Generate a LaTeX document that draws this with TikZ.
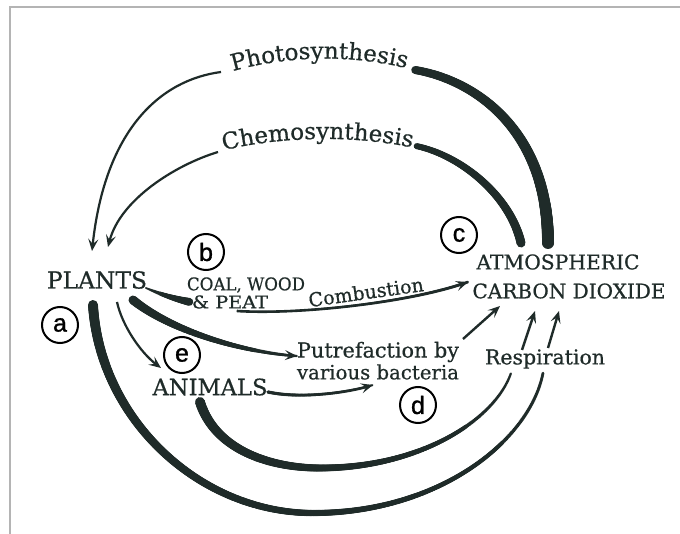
\documentclass[tikz,border=0pt]{standalone}
\usepackage{fontspec}
\setmainfont{DejaVu Serif}
\newfontfamily\lblfont{DejaVu Serif}[FakeBold=0.6]
\newfontfamily\circfont{Liberation Sans}[FakeBold=1.2]
\usetikzlibrary{arrows.meta,decorations.markings,decorations.text}
\definecolor{ink}{HTML}{1F2B29}
\definecolor{framegray}{HTML}{B4B4B4}
\begin{document}
\begin{tikzpicture}[x=1pt,y=-1pt,
  lbl/.style={inner sep=0pt, text=ink, font=\lblfont},
  circ/.style={circle, draw=black, line width=2pt, minimum size=36pt, inner sep=0pt,
    font=\circfont\fontsize{25}{25}\selectfont},
  tip/.style={-{Stealth[length=12pt,width=10pt,inset=5pt]}},
  conn/.style={draw=ink, line width=2.4pt},
  taper/.style n args={2}{postaction={decorate,decoration={markings,
    mark=between positions 0 and 1 step 0.8pt with {%
      \pgfmathsetmacro\tr{0.5*(#1+(#2-#1)*\pgfkeysvalueof{/pgf/decoration/mark info/distance from start}/\pgfdecoratedpathlength)}%
      \fill[ink] (0,0) circle[radius=\tr pt];}}}},
  arctext/.style={decorate,decoration={text along path, text align=center,
    text={|\lblfont\fontsize{23}{23}\selectfont\color{ink}|#1}}},
]
\useasboundingbox (0,0) rectangle (680,534);
\fill[white] (0,0) rectangle (680,534);
\draw[framegray, line width=2pt] (10,534) -- (10,7) -- (680,7);

% text nodes
\node[lbl] (plants) at (97,280) {\resizebox{100pt}{!}{PLANTS}};
\node[lbl] (coal) at (246,285) {\resizebox{118pt}{13pt}{COAL, WOOD}};
\node[lbl] (peat) at (230,302) {\resizebox{76pt}{13pt}{\& PEAT}};
\node[lbl, rotate=8] (comb) at (366,292) {\resizebox{116pt}{!}{Combustion}};
\node[lbl] (atmo) at (558,262) {\resizebox{163pt}{!}{ATMOSPHERIC}};
\node[lbl] (co2) at (569,291) {\resizebox{193pt}{!}{CARBON DIOXIDE}};
\node[lbl] (putr) at (378,352) {\resizebox{162pt}{!}{Putrefaction by}};
\node[lbl] (bact) at (378,372) {\resizebox{162pt}{!}{various bacteria}};
\node[lbl] (anim) at (210,387) {\resizebox{115pt}{!}{ANIMALS}};
\node[lbl] (resp) at (545,359) {\resizebox{120pt}{!}{Respiration}};

% curved labels
\path[arctext=Photosynthesis] (190,87) .. controls (270,50) and (370,50) .. (450,82);
\path[arctext=Chemosynthesis] (184,162) .. controls (264,133) and (370,131) .. (452,158);

% circle markers
\node[circ] (ca) at (60,325) {a};
\node[circ] (cb) at (206,252) {b};
\node[circ] (cc) at (459,235) {c};
\node[circ] (cd) at (418,405) {d};
\node[circ] (ce) at (182,355) {e};

% connector end points
\coordinate (phL) at (221,72);
\coordinate (phR) at (415,70);
\coordinate (chL) at (218,152);
\coordinate (chR) at (416,146);
\coordinate (pA) at (92,251);
\coordinate (pB) at (108,247);
\coordinate (co2A) at (548,243);
\coordinate (co2B) at (521,243);
\coordinate (plE) at (146,288);
\coordinate (coalW) at (190,302);
\coordinate (cmbS) at (237,311);
\coordinate (cmbE) at (468,282);
\coordinate (plP) at (133,300);
\coordinate (putL) at (297,356);
\coordinate (plAn) at (117,302);
\coordinate (anT) at (161,368);
\coordinate (plO) at (93,305);
\coordinate (resO) at (543,373);
\coordinate (resO2) at (548,348);
\coordinate (co2R) at (559,311);
\coordinate (anB) at (200,402);
\coordinate (resI) at (511,373);
\coordinate (resI2) at (522,350);
\coordinate (co2M) at (535,311);
\coordinate (putR) at (463,339);
\coordinate (co2L) at (500,306);
\coordinate (anR) at (268,392);
\coordinate (bacB) at (373,385);

% photosynthesis and chemosynthesis
\path[taper={12}{8}] (co2A) .. controls (548,130) and (475,80) .. (phR);
\draw[conn, line width=2.2pt, tip] (phL) .. controls (160,80) and (105,130) .. (pA);
\path[taper={9}{6}] (co2B) .. controls (510,195) and (460,155) .. (chR);
\draw[conn, line width=2.2pt, tip] (chL) .. controls (175,165) and (120,200) .. (pB);

% plants to coal, combustion
\path[taper={2}{8}] (plE) .. controls (160,294) and (175,299) .. (coalW);
\draw[conn, line width=2.6pt, tip, taper={1.5}{3}] (cmbS) .. controls (300,315) and (410,302) .. (cmbE);

% plants to putrefaction and animals
\draw[conn, line width=2.4pt, tip, taper={9}{2.4}] (plP) .. controls (170,330) and (240,352) .. (putL);
\draw[conn, line width=2.2pt, tip] (plAn) .. controls (122,325) and (140,352) .. (anT);

% respiration arcs
\path[taper={10}{3}] (plO) .. controls (100,420) and (200,513) .. (313,513)
  .. controls (440,513) and (530,440) .. (resO);
\path[taper={10}{2.5}] (anB) .. controls (215,450) and (270,468) .. (320,468)
  .. controls (420,468) and (495,420) .. (resI);
\draw[conn, line width=2.4pt, tip] (resO2) -- (co2R);
\draw[conn, line width=2.4pt, tip] (resI2) -- (co2M);

% putrefaction to CO2, animals to bacteria
\draw[conn, line width=2.4pt, tip] (putR) -- (co2L);
\draw[conn, line width=2.6pt, tip, taper={3.5}{2.2}] (anR) .. controls (300,399) and (345,393) .. (bacB);
\end{tikzpicture}
\end{document}
